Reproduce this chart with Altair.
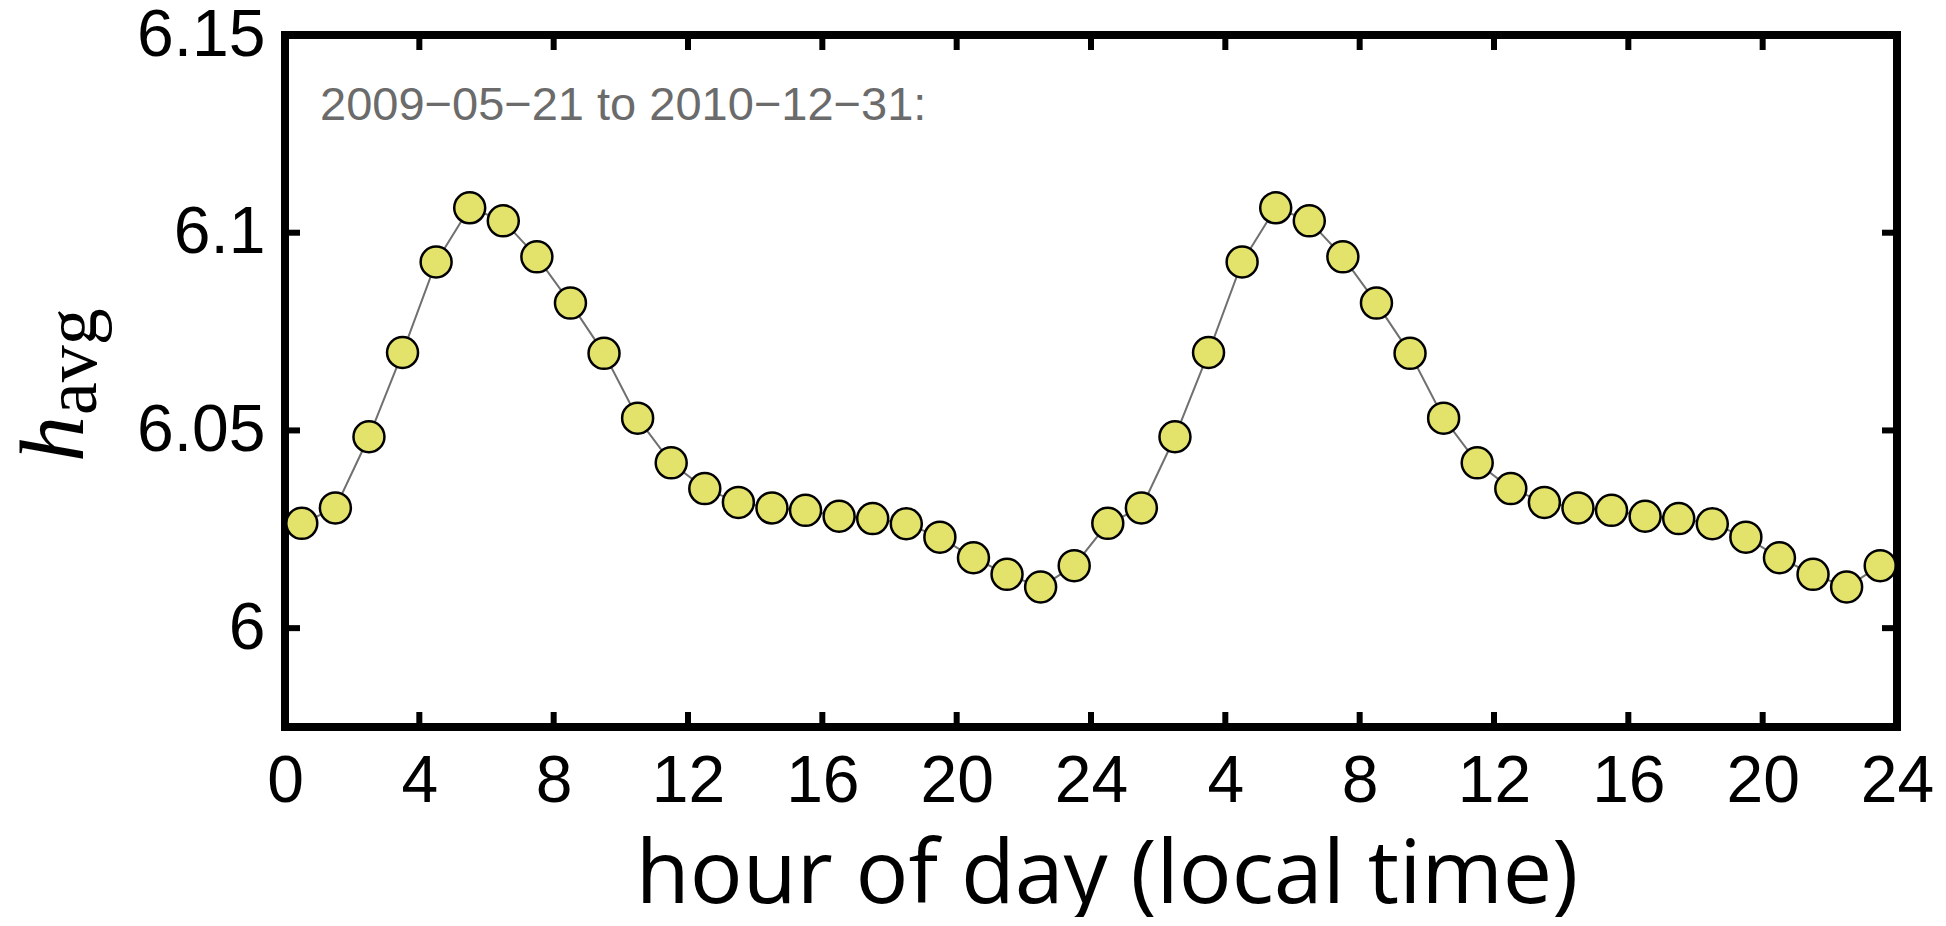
import altair as alt
import pandas as pd

# ---- data ----
hour_mid = [0.5 + i for i in range(48)]
day_values = [6.0265, 6.0304, 6.0484, 6.0697, 6.0926, 6.1063, 6.1030, 6.0939,
              6.0822, 6.0695, 6.0531, 6.0418, 6.0353, 6.0318, 6.0304, 6.0298,
              6.0283, 6.0277, 6.0264, 6.0230, 6.0178, 6.0136, 6.0104, 6.0158]
h_avg = day_values + day_values          # the same day shown twice
x_tick_values = [0, 4, 8, 12, 16, 20, 24, 28, 32, 36, 40, 44, 48]
x_inner_ticks = [4, 8, 12, 16, 20, 24, 28, 32, 36, 40, 44]
y_tick_values = [6.0, 6.05, 6.1, 6.15]
annotation = "2009\u221205\u221221 to 2010\u221212\u221231:"
x_title = "hour of day (local time)"

W, H = 1612, 692
df = pd.DataFrame({"hour": hour_mid, "h": h_avg})
xt = pd.DataFrame({"t": x_inner_ticks})
yt = pd.DataFrame({"v": [6.0, 6.05, 6.1]})

xscale = alt.Scale(domain=[0, 48], nice=False, zero=False)
yscale = alt.Scale(domain=[5.975, 6.15], nice=False, zero=False)

LABEL_FONT = "Liberation Sans"

xaxis = alt.Axis(values=x_tick_values,
                 labelExpr="datum.value > 24 ? toString(datum.value - 24) : toString(datum.value)",
                 labelFont=LABEL_FONT, labelFontSize=66, labelColor="black",
                 labelPadding=22, labelFlush=False, labelOverlap=False,
                 ticks=False, tickSize=0, domain=False, grid=False, title=None)
yaxis = alt.Axis(values=y_tick_values, format=".2~f",
                 labelFont=LABEL_FONT, labelFontSize=66, labelColor="black",
                 labelPadding=20, labelFlush=False, labelOverlap=False,
                 ticks=False, tickSize=0, domain=False, grid=False, title=None)

base = alt.Chart(df)
line = base.mark_line(color="#707070", strokeWidth=2).encode(
    x=alt.X("hour:Q", scale=xscale, axis=xaxis),
    y=alt.Y("h:Q", scale=yscale, axis=yaxis),
)
pts = base.mark_point(filled=True, fill="#e3e36b", stroke="black", strokeWidth=2.5,
                      size=960, opacity=1, shape="circle").encode(
    x=alt.X("hour:Q", scale=xscale),
    y=alt.Y("h:Q", scale=yscale),
)

TL = 15
tick_style = dict(color="black", strokeWidth=6)
xt_bottom = alt.Chart(xt).mark_rule(**tick_style).encode(
    x=alt.X("t:Q", scale=xscale), y=alt.value(H), y2=alt.value(H - TL))
xt_top = alt.Chart(xt).mark_rule(**tick_style).encode(
    x=alt.X("t:Q", scale=xscale), y=alt.value(0), y2=alt.value(TL))
yt_left = alt.Chart(yt).mark_rule(**tick_style).encode(
    y=alt.Y("v:Q", scale=yscale), x=alt.value(0), x2=alt.value(TL))
yt_right = alt.Chart(yt).mark_rule(**tick_style).encode(
    y=alt.Y("v:Q", scale=yscale), x=alt.value(W), x2=alt.value(W - TL))

note = alt.Chart(pd.DataFrame({"s": [annotation]})).mark_text(
    font=LABEL_FONT, fontSize=47, color="#6b6b6b", align="left", baseline="middle"
).encode(text="s:N", x=alt.value(35), y=alt.value(71))

xtitle = alt.Chart(pd.DataFrame({"s": [x_title]})).mark_text(
    font="Open Sans", fontSize=88, color="black", align="center", baseline="alphabetic"
).encode(text="s:N", x=alt.value(822), y=alt.value(868))

ytitle_h = alt.Chart(pd.DataFrame({"s": ["h"]})).mark_text(
    font="Liberation Serif", fontStyle="italic", fontSize=92, color="black",
    align="left", baseline="alphabetic", angle=270
).encode(text="s:N", x=alt.value(-202), y=alt.value(427))
ytitle_sub = alt.Chart(pd.DataFrame({"s": ["avg"]})).mark_text(
    font="Liberation Serif", fontSize=74, color="black",
    align="left", baseline="alphabetic", angle=270
).encode(text="s:N", x=alt.value(-189), y=alt.value(380))

chart = alt.layer(
    line, pts, xt_bottom, xt_top, yt_left, yt_right, note, xtitle, ytitle_h, ytitle_sub
).properties(
    width=W, height=H,
    autosize=alt.AutoSizeParams(type="none"),
    padding={"left": 277, "top": 27, "right": 41, "bottom": 190},
    background="white",
).configure_view(stroke="black", strokeWidth=8)

chart.save("out.html", embed_options={"renderer": "svg", "actions": False})
